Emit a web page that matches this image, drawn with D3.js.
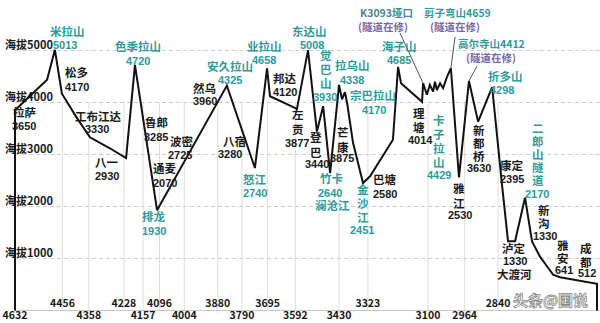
<!DOCTYPE html>
<html><head><meta charset="utf-8">
<script src="https://cdn.jsdelivr.net/npm/d3@7"></script>
<style>
body{margin:0;background:#fff}
svg{display:block}
text{font-family:"Noto Sans CJK SC","Noto Sans",sans-serif;font-weight:bold}
.num{font-family:"Liberation Sans",Arial,sans-serif}
.vert{writing-mode:vertical-rl;text-orientation:upright}
</style>
</head><body><svg id="c" width="600" height="323"></svg>
<script>
// ---------- DATA ----------
// road kilometre marker (G318) and elevation (m) of each vertex of the profile
const profileKm   = [4632,4513,4484,4458,4402,4354,4280,4220,4187,4105,3846,3742,3697,3686,3586,3545,3512,3489,3463,3430,3419,3408,3400,3378,3341,3315,3230,3211,3200,3122,3118,3104,3093,3081,3074,3067,3055,3044,3029,3015,2985,2948,2914,2862,2825,2803,2777,2740,2714,2685,2658,2636,2610,2473];
const profileElev = [3850,4437,5013,4170,3700,3330,3120,2930,4720,1930,4325,2740,4658,4120,3877,5008,3440,3930,2640,4338,4062,4200,3990,3225,2451,2580,3283,4685,4370,4014,4370,4150,4340,4210,4400,4240,4370,4275,4500,4659,2560,4412,3630,4298,2395,1330,1330,2170,1330,1040,846,690,641,512];
const kmStart = 4632, kmEnd = 2473;
const elevTicks = [1000,2000,3000,4000,5000];
const elevTickLabels = ["海拔1000","海拔2000","海拔3000","海拔4000","海拔5000"];
const kmTicksLower = [4632,4358,4157,4004,3790,3592,3430,3100,2964];
const kmTicksUpper = [4456,4228,4096,3880,3695,3323,2840];

// place names, elevation labels, kind ("pass" = mountain/river in teal, "town" = black)
const placeNames = ["米拉山","色季拉山","排龙","安久拉山","业拉山","怒江","东达山","觉巴山","拉乌山","宗巴拉山","竹卡","金沙江","海子山","卡子拉山","折多山","二郎山隧道",
  "松多","拉萨","工布江达","八一","鲁郎","波密","通麦","然乌","八宿","邦达","左贡","登巴","芒康","巴塘","理塘","雅江","新都桥","康定","泸定","新沟","雅安","成都"];
const placeElev = ["5013","4720","1930","4325","4658","2740","5008","3930","4338","4170","2640","2451","4685","4429","4298","2170",
  "4170","3650","3330","2930","3285","2725","2070","3960","3280","4120","3877","3440","3875","2580","4014","2530","3630","2395","1330","1330","641","512"];
const placeKind = ["pass","pass","pass","pass","pass","pass","pass","pass","pass","pass","pass","pass","pass","pass","pass","pass",
  "town","town","town","town","town","town","town","town","town","town","town","town","town","town","town","town","town","town","town","town","town","town"];
const extraNotes = ["澜沧江","大渡河"];
const tunnelNames = ["K3093垭口","剪子弯山4659","高尔寺山4412"];
const tunnelNote = "(隧道在修)";
const tunnelTargetKm = [3118,3015,2948];
const tunnelTargetElev = [4370,4659,4412];
const watermark = "头条@国说";

// ---------- LAYOUT (label placement, px) ----------
// [nameX, nameY, valueX, valueY, vertical, charStep]
const labelLayout = [
 [50,36,53,48,0],[115,51,126,64,0],[142,221,142,234,0],[207,71,218,83,0],[247,51,252,63,0],[243,184,243,196,0],
 [292,36,300,48,0],[320,60,313,100,1,14],[335,70,340,83,0],[350,100,362,113,0],[320,183,318,196,0],[357,194,350,233,1,14],
 [382,51,387,63,0],[433,125,427,178,1,14],[488,81,490,93,0],[532,133,525,197,1,13],
 [65,77,65,90,0],[13,117,12,129,0],[75,121,85,132,0],[95,167,95,179,0],[145,127,144,140,0],[170,146,168,158,0],
 [153,173,153,186,0],[193,93,193,104,0],[223,146,218,157,0],[273,83,273,95,0],[292,119,285,146,1,15],[310,142,305,167,1,15],
 [337,137,330,161,1,15],[373,184,373,197,0],[413,118,408,143,1,14],[453,193,448,218,1,15],[473,135,467,171,1,13],
 [500,170,500,182,0],[502,253,503,264,0],[538,215,533,239,1,13],[557,250,555,273,1,13],[580,253,578,276,1,14]
];
const extraLayout = [[315,210],[497,279]];
const tunnelLayout = [[360,17,358,31,400,33],[424,17,430,31,455,37],[458,48,466,62,477,66]];

const colors = {pass:"#2f9a9a", town:"#1a1a1a", note:"#7569aa", slate:"#4a8597", grid:"#cfcfcf", vgrid:"#dedede"};
const FS = 11.5;

// ---------- CHART ----------
const svg = d3.select("#c");
const x = d3.scaleLinear().domain([kmStart, kmEnd]).range([15, 597]);
const y = d3.scaleLinear().domain([0, 5000]).range([310.5, 50.5]);

// vertical grid lines at km markers
const allTicks = kmTicksLower.concat(kmTicksUpper).filter(d => d !== kmStart);
svg.append("g").selectAll("line").data(allTicks).join("line")
  .attr("x1", d => x(d)).attr("x2", d => x(d))
  .attr("y1", y(0)).attr("y2", y(4000))
  .attr("stroke", colors.vgrid).attr("stroke-width", 1);

// horizontal dashed grid
svg.append("g").selectAll("line").data(elevTicks).join("line")
  .attr("x1", x(kmStart)).attr("x2", 600)
  .attr("y1", d => y(d)).attr("y2", d => y(d))
  .attr("stroke", colors.grid).attr("stroke-width", 1).attr("stroke-dasharray", "4,3");

// baseline
svg.append("line").attr("x1", x(kmStart)).attr("x2", 600).attr("y1", y(0)).attr("y2", y(0))
  .attr("stroke", "#c8c8c8").attr("stroke-width", 1);

// elevation labels
svg.append("g").selectAll("text").data(elevTicks).join("text")
  .attr("x", 5).attr("y", d => y(d) - 1.5)
  .attr("font-size", 11).attr("fill", "#1a1a1a")
  .text((d, i) => elevTickLabels[i]);

// km labels
const kmLabel = (data, yy) => svg.append("g").selectAll("text").data(data).join("text")
  .attr("x", d => x(d)).attr("y", yy).attr("text-anchor", "middle")
  .attr("font-size", 10.5).attr("fill", "#1a1a1a").text(d => d);
kmLabel(kmTicksLower, 319);
kmLabel(kmTicksUpper, 307);

// profile (with drop lines to ground at both ends)
const pts = profileKm.map((k, i) => [k, profileElev[i]]);
const full = [[profileKm[0], 0]].concat(pts, [[profileKm[profileKm.length - 1], 0]]);
svg.append("path").datum(full)
  .attr("d", d3.line().x(d => x(d[0])).y(d => y(d[1])))
  .attr("fill", "none").attr("stroke", "#111").attr("stroke-width", 2)
  .attr("stroke-linejoin", "miter").attr("stroke-miterlimit", 3);

// leader lines for tunnel notes
svg.append("g").selectAll("line").data(tunnelTargetKm).join("line")
  .attr("x1", (d, i) => tunnelLayout[i][4]).attr("y1", (d, i) => tunnelLayout[i][5])
  .attr("x2", d => x(d)).attr("y2", (d, i) => y(tunnelTargetElev[i]))
  .attr("stroke", "#555").attr("stroke-width", 1);

// place labels
const lab = svg.append("g");
placeNames.forEach((name, i) => {
  const L = labelLayout[i];
  const col = colors[placeKind[i]];
  if (L[4]) {
    lab.append("text").attr("class", "vert")
      .attr("x", L[0] + FS / 2).attr("y", L[1] - FS * 0.88)
      .attr("font-size", FS).attr("letter-spacing", L[5] - FS)
      .attr("fill", col).text(name);
    lab.append("text").attr("class", "num").attr("x", L[2]).attr("y", L[3] + 0.5)
      .attr("font-size", 11).attr("fill", col).text(placeElev[i]);
  } else {
    const t = lab.append("text").attr("x", L[0]).attr("y", L[1]).attr("fill", col);
    t.append("tspan").attr("font-size", FS).text(name);
    t.append("tspan").attr("class", "num").attr("x", L[2]).attr("y", L[3] + 0.5)
      .attr("font-size", 11).text(placeElev[i]);
  }
});
extraNotes.forEach((t, i) => {
  lab.append("text").attr("x", extraLayout[i][0]).attr("y", extraLayout[i][1]).attr("font-size", FS)
    .attr("fill", i === 0 ? colors.pass : colors.town).text(t);
});
tunnelNames.forEach((t, i) => {
  const L = tunnelLayout[i];
  const tx = lab.append("text").attr("x", L[0]).attr("y", L[1]).attr("font-size", 10.5);
  tx.append("tspan").attr("fill", i === 0 ? colors.slate : colors.pass).text(t);
  tx.append("tspan").attr("x", L[2]).attr("y", L[3]).attr("fill", colors.note).text(tunnelNote);
});

// watermark
svg.append("text").attr("x", 513).attr("y", 306).attr("font-size", 15)
  .attr("font-weight", "normal").attr("fill", "#fff").attr("fill-opacity", 0.85)
  .attr("stroke", "#8a8a8a").attr("stroke-width", 0.8).text(watermark);
</script>
</body></html>
